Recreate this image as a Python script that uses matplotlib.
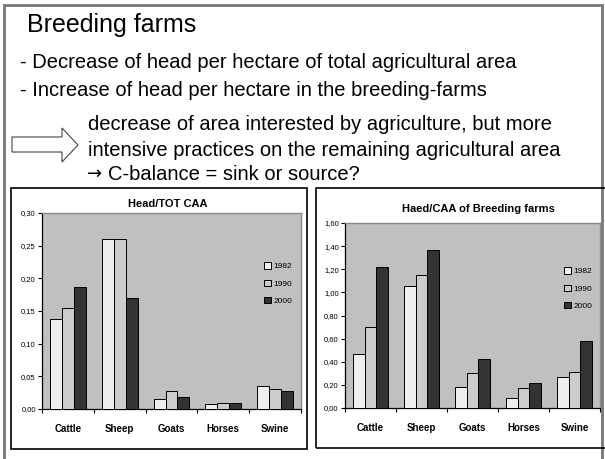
import numpy as np
import matplotlib
matplotlib.use('Agg')
import matplotlib.pyplot as plt
import matplotlib.patches as mpatches
from matplotlib.ticker import FixedLocator, FuncFormatter

plt.rcParams['font.family'] = ['Liberation Sans', 'DejaVu Sans']

# data
animals = ['Cattle', 'Sheep', 'Goats', 'Horses', 'Swine']
years = ['1982', '1990', '2000']
head_tot = [
    [0.137, 0.260, 0.015, 0.008, 0.035],   # 1982
    [0.154, 0.260, 0.027, 0.009, 0.030],   # 1990
    [0.186, 0.170, 0.018, 0.009, 0.027],   # 2000
]
head_breed = [
    [0.47, 1.055, 0.18, 0.083, 0.27],
    [0.70, 1.15, 0.30, 0.175, 0.31],
    [1.22, 1.37, 0.42, 0.216, 0.58],
]
bar_colors = ['#eeeeee', '#cccccc', '#333333']

W, H = 605, 459
fig = plt.figure(figsize=(W / 100, H / 100), dpi=100)


# pixel helpers (origin at top left like the picture)
def fx(px):
    return px / W


def fy(py):
    return 1 - py / H


def box(x0, y0, x1, y1, color='k', lw=1.2):
    r = mpatches.Rectangle((fx(x0), fy(y1)), fx(x1) - fx(x0), fy(y0) - fy(y1),
                           transform=fig.transFigure, fill=False, edgecolor=color, lw=lw)
    fig.patches.append(r)


# outer slide frame and chart frames
box(4, 5, 602, 462, color='#777777', lw=2)
box(11, 188, 307, 449)
box(316, 188, 607, 448)

# slide text
fig.text(fx(27), fy(25), 'Breeding farms', fontsize=18, va='center')
fig.text(fx(20), fy(63), '- Decrease of head per hectare of total agricultural area', fontsize=14.5, va='center')
fig.text(fx(20), fy(91), '- Increase of head per hectare in the breeding-farms', fontsize=14.5, va='center')
fig.text(fx(88), fy(125), 'decrease of area interested by agriculture, but more', fontsize=14.5, va='center')
fig.text(fx(88), fy(150), 'intensive practices on the remaining agricultural area', fontsize=14.5, va='center')
fig.text(fx(87), fy(174), '\u2192', fontsize=13, va='center', family='DejaVu Sans')
fig.text(fx(108), fy(174), 'C-balance = sink or source?', fontsize=14.5, va='center')

# outlined block arrow
arrow_pts = [(12, 137), (62, 137), (62, 128), (78, 145), (62, 162), (62, 152), (12, 152)]
arrow = mpatches.Polygon([(fx(a), fy(b)) for a, b in arrow_pts], closed=True,
                         transform=fig.transFigure, facecolor='white', edgecolor='#444444', lw=0.8)
fig.patches.append(arrow)


def bar_chart(rect, values, ymax, step, fmt, title, title_xy, leg_y):
    ax = fig.add_axes(rect)
    ax.set_facecolor('#c0c0c0')
    x = np.arange(len(animals))
    w = 0.23
    for i, yr in enumerate(years):
        ax.bar(x + (i - 1) * w, values[i], w, color=bar_colors[i], edgecolor='black',
               linewidth=0.7, label=yr, zorder=3)
    ax.set_xlim(-0.5, len(animals) - 0.5)
    ax.set_ylim(0, ymax)
    ax.set_yticks(np.arange(0, ymax + step / 2, step))
    ax.yaxis.set_major_formatter(FuncFormatter(lambda v, p: (fmt % v).replace('.', ',')))
    ax.set_xticks(x)
    ax.set_xticklabels(animals, fontsize=7, fontweight='bold')
    ax.xaxis.set_minor_locator(FixedLocator(np.arange(-0.5, len(animals), 1.0)))
    ax.tick_params(axis='x', which='major', length=0, pad=11)
    ax.tick_params(axis='x', which='minor', length=3, width=0.8, direction='out')
    ax.tick_params(axis='y', labelsize=5.5, length=3, width=0.8, pad=1.5)
    for s in ['top', 'right']:
        ax.spines[s].set_color('#888888')
        ax.spines[s].set_linewidth(1.0)
    for s in ['left', 'bottom']:
        ax.spines[s].set_linewidth(0.9)
    ax.legend(loc='center left', bbox_to_anchor=(0.83, leg_y), frameon=False, fontsize=6,
              handlelength=0.8, handleheight=0.8, handletextpad=0.3, labelspacing=1.1)
    fig.text(fx(title_xy[0]), fy(title_xy[1]), title, fontsize=8, fontweight='bold',
             ha='center', va='center')
    return ax


bar_chart([fx(42), fy(409), fx(301) - fx(42), fy(213) - fy(409)], head_tot, 0.30, 0.05, '%.2f',
          'Head/TOT CAA', (168, 204), 0.64)
bar_chart([fx(345), fy(408), fx(600) - fx(345), fy(223) - fy(408)], head_breed, 1.60, 0.20, '%.2f',
          'Haed/CAA of Breeding farms', (478, 209), 0.645)

fig.savefig('out.png', dpi=100)
